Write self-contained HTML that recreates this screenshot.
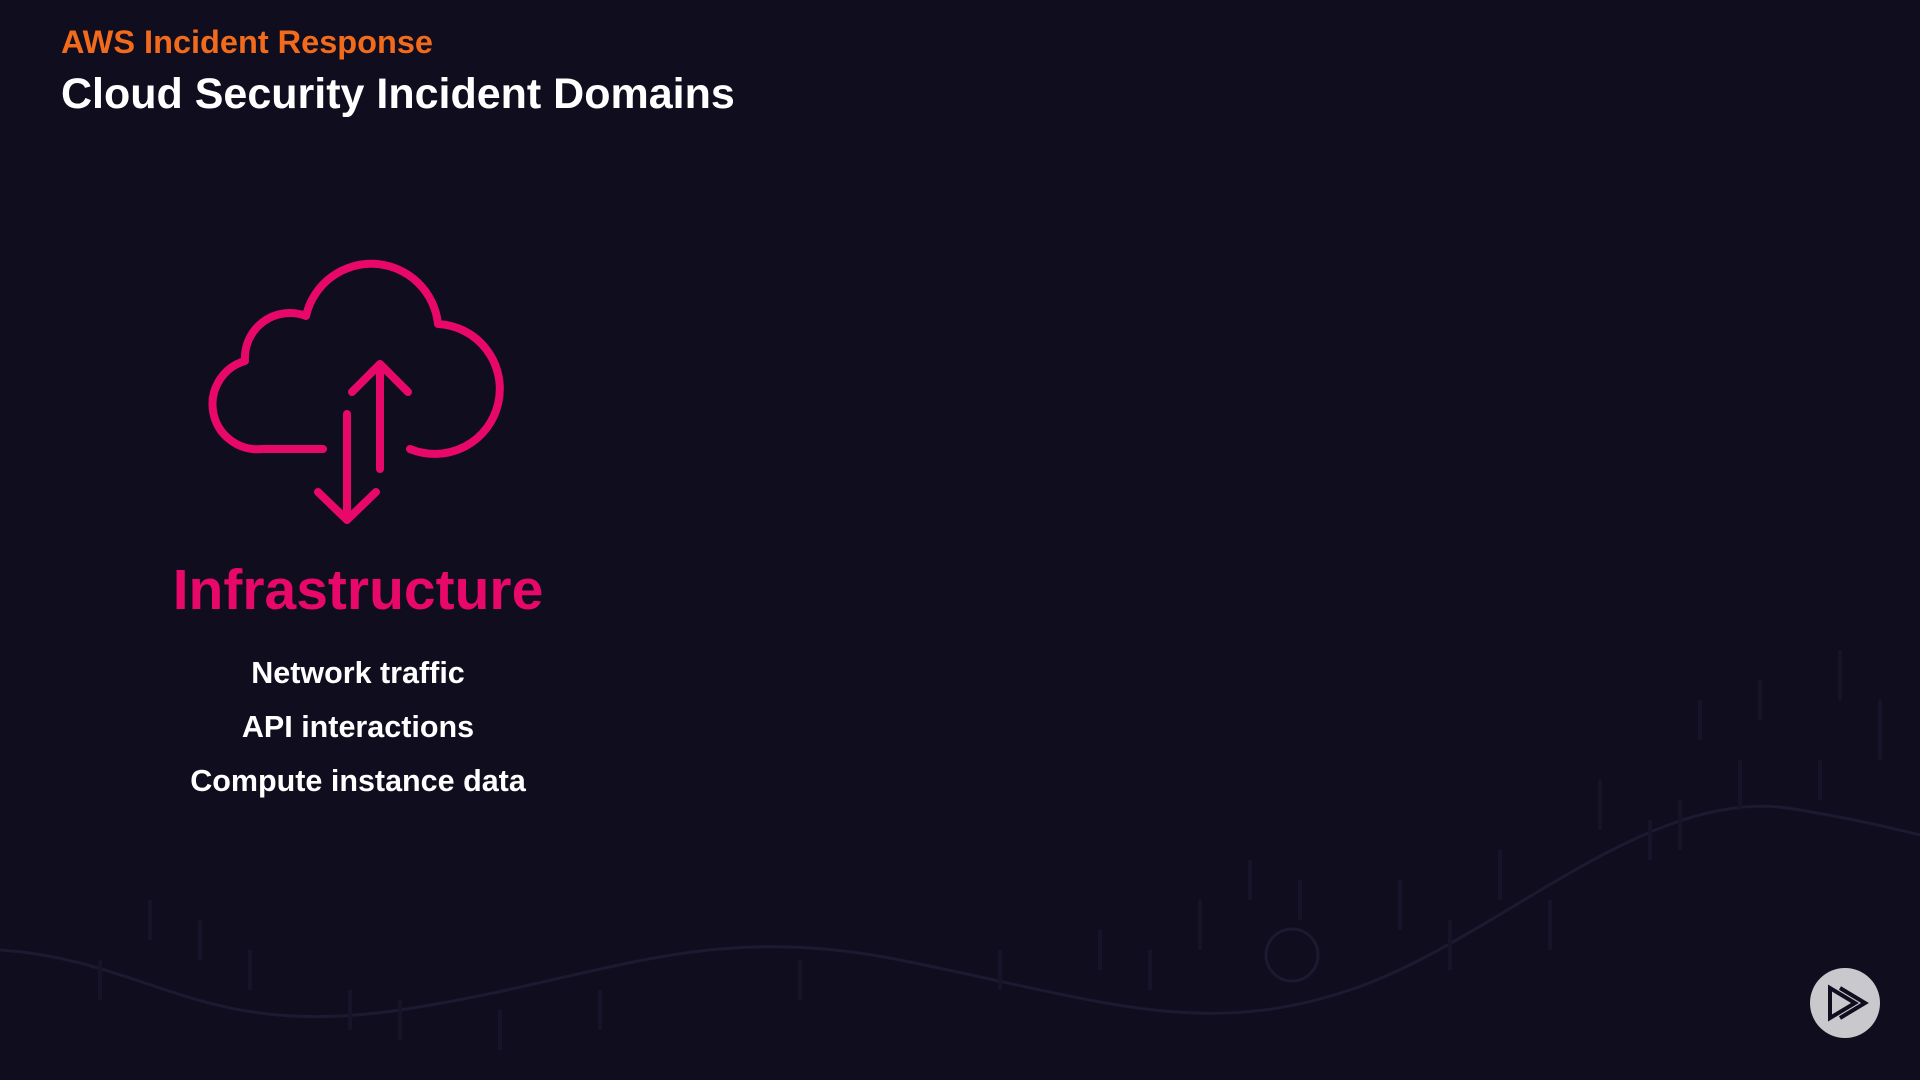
<!DOCTYPE html>
<html><head><style>
html,body{margin:0;padding:0;background:#100d1e;width:1920px;height:1080px;overflow:hidden;font-family:"Liberation Sans",sans-serif;}
.t{position:absolute;white-space:nowrap;font-weight:bold;}
</style></head><body>
<svg width="1920" height="1080" style="position:absolute;left:0;top:0">
<path d="M0,950 C150,960 200,1040 400,1010 C600,980 700,920 900,960 C1100,1000 1200,1040 1350,990 C1500,940 1650,780 1800,810 C1860,820 1900,830 1920,835" fill="none" stroke="#1c1930" stroke-width="3"/>
<circle cx="1292" cy="955" r="26" fill="none" stroke="#1c1930" stroke-width="3"/>
<g stroke="#17142a" stroke-width="4">
<line x1="1700" y1="700" x2="1700" y2="740"/><line x1="1760" y1="680" x2="1760" y2="720"/><line x1="1840" y1="650" x2="1840" y2="700"/><line x1="1880" y1="700" x2="1880" y2="760"/>
<line x1="1820" y1="760" x2="1820" y2="800"/><line x1="1740" y1="760" x2="1740" y2="810"/><line x1="1680" y1="800" x2="1680" y2="850"/>
<line x1="1600" y1="780" x2="1600" y2="830"/><line x1="1650" y1="820" x2="1650" y2="860"/><line x1="1500" y1="850" x2="1500" y2="900"/><line x1="1400" y1="880" x2="1400" y2="930"/>
<line x1="1300" y1="880" x2="1300" y2="920"/><line x1="1200" y1="900" x2="1200" y2="950"/><line x1="1100" y1="930" x2="1100" y2="970"/><line x1="1000" y1="950" x2="1000" y2="990"/>
<line x1="1550" y1="900" x2="1550" y2="950"/><line x1="1450" y1="920" x2="1450" y2="970"/><line x1="1250" y1="860" x2="1250" y2="900"/><line x1="1150" y1="950" x2="1150" y2="990"/>
<line x1="800" y1="960" x2="800" y2="1000"/><line x1="600" y1="990" x2="600" y2="1030"/><line x1="400" y1="1000" x2="400" y2="1040"/><line x1="200" y1="920" x2="200" y2="960"/><line x1="100" y1="960" x2="100" y2="1000"/>
<line x1="150" y1="900" x2="150" y2="940"/><line x1="250" y1="950" x2="250" y2="990"/><line x1="350" y1="990" x2="350" y2="1030"/><line x1="500" y1="1010" x2="500" y2="1050"/>
</g>
<g fill="none" stroke="#e8086a" stroke-width="8" stroke-linecap="round" stroke-linejoin="round">
<path d="M323,449 H262 A45,45 0 0 1 245,361 A45,45 0 0 1 306,316 A67,67 0 0 1 438,324 A65,65 0 1 1 410,449"/>
<path d="M380,469 V364 M352,392 L380,364 L408,392"/>
<path d="M347,414 V520 M318,492 L347,520 L376,492"/>
</g>
<circle cx="1845" cy="1003" r="35" fill="#c9c8cc"/>
<g fill="none" stroke="#100d1e" stroke-width="4" stroke-linejoin="miter">
<path d="M1830,988 V1018 L1855,1003 Z"/>
<path d="M1840,988 L1865,1003 L1840,1018"/>
</g>
</svg>
<div class="t" style="left:61px;top:24px;font-size:32.5px;color:#f26b1d;">AWS Incident Response</div>
<div class="t" style="left:61px;top:70px;font-size:43px;color:#fff;">Cloud Security Incident Domains</div>
<div class="t" style="left:108px;width:500px;text-align:center;top:560px;font-size:57px;color:#e8086a;line-height:60px;">Infrastructure</div>
<div class="t" style="left:108px;width:500px;text-align:center;top:654px;font-size:30.5px;color:#fff;line-height:38px;">Network traffic</div>
<div class="t" style="left:108px;width:500px;text-align:center;top:708px;font-size:30.5px;color:#fff;line-height:38px;">API interactions</div>
<div class="t" style="left:108px;width:500px;text-align:center;top:762px;font-size:30.5px;color:#fff;line-height:38px;">Compute instance data</div>
</body></html>
